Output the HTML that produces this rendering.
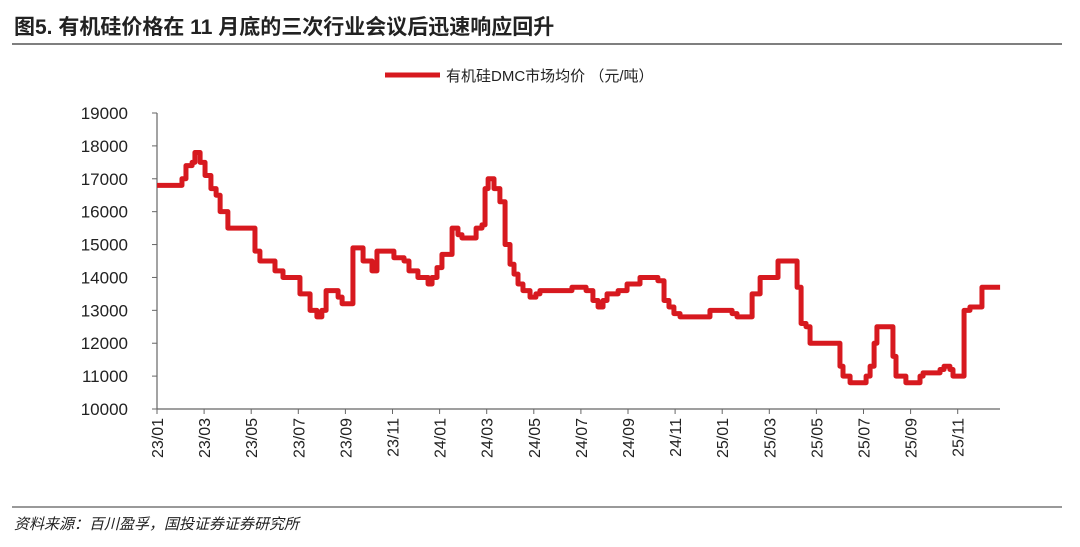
<!DOCTYPE html>
<html><head><meta charset="utf-8"><style>
body{margin:0;background:#fff;}
svg{display:block;font-family:"Liberation Sans","Noto Sans CJK SC",sans-serif;}
</style></head><body>
<svg width="1080" height="547" viewBox="0 0 1080 547">
<text x="14" y="34" font-size="21" font-weight="bold" fill="#222">图5. 有机硅价格在 11 月底的三次行业会议后迅速响应回升</text>
<line x1="12" y1="44" x2="1062" y2="44" stroke="#333" stroke-width="1.2"/>
<g>
<line x1="385" y1="75" x2="440" y2="75" stroke="#d7191f" stroke-width="5"/>
<text x="446" y="81" font-size="15" fill="#222">有机硅DMC市场均价 （元/吨）</text>
</g>
<g id="axes"></g>
<path id="line" fill="none" stroke="#d7191f" stroke-width="5" stroke-linejoin="round"/>
<line x1="12" y1="507" x2="1062" y2="507" stroke="#333" stroke-width="1"/>
<text x="14" y="529" font-size="15" font-style="italic" fill="#222">资料来源：百川盈孚，国投证券证券研究所</text>
</svg>
<script>
const months = [0,1.06,1.23,1.49,1.61,1.83,2.04,2.29,2.51,2.68,3.01,4.16,4.37,5.01,5.35,6.07,6.5,6.79,7.0,7.18,7.69,7.86,8.32,8.75,9.13,9.34,10.06,10.49,10.7,11.08,11.51,11.68,11.89,12.1,12.53,12.78,12.95,13.55,13.8,13.93,14.06,14.31,14.56,14.78,14.99,15.16,15.33,15.54,15.84,16.09,16.26,17.62,18.22,18.51,18.73,18.94,19.11,19.58,19.96,20.51,21.27,21.53,21.74,21.95,22.21,23.48,24.42,24.63,25.27,25.61,26.37,27.18,27.35,27.56,27.73,29.0,29.13,29.43,30.11,30.28,30.45,30.57,31.25,31.38,31.8,32.4,32.53,33.25,33.42,33.67,33.8,34.27,34.52,35.03,35.8];
const prices = [16800,17000,17400,17500,17800,17500,17100,16700,16500,16000,15500,14800,14500,14200,14000,13500,13000,12800,13000,13600,13400,13200,14900,14500,14200,14800,14600,14500,14200,14000,13800,14000,14300,14700,15500,15300,15200,15500,15600,16700,17000,16700,16300,15000,14400,14100,13800,13600,13400,13500,13600,13700,13600,13300,13100,13300,13500,13600,13800,14000,13900,13300,13100,12900,12800,13000,12900,12800,13500,14000,14500,13700,12600,12500,12000,11300,11000,10800,11000,11300,12000,12500,11600,11000,10800,11000,11100,11200,11300,11200,11000,13000,13100,13700,13700];
const yTicks = [10000,11000,12000,13000,14000,15000,16000,17000,18000,19000];
const xLabels = ["23/01","23/03","23/05","23/07","23/09","23/11","24/01","24/03","24/05","24/07","24/09","24/11","25/01","25/03","25/05","25/07","25/09","25/11"];
const X = t => 157 + t*23.55;
const Y = v => 409 - (v-10000)/9000*296;
const NS="http://www.w3.org/2000/svg";
const ax=document.getElementById('axes');
function mk(tag,attrs){const e=document.createElementNS(NS,tag);for(const k in attrs)e.setAttribute(k,attrs[k]);ax.appendChild(e);return e;}
let a=mk('line',{x1:157,y1:113,x2:157,y2:409,stroke:'#666','stroke-width':1.2});


a=mk('line',{x1:157,y1:409,x2:1000,y2:409,stroke:'#666','stroke-width':1.2});


yTicks.forEach(v=>{
 const t=mk('line',{x1:152,y1:Y(v),x2:157,y2:Y(v),stroke:'#666'});
 
 
 const l=mk('text',{x:128,y:Y(v)+6,'font-size':17,'text-anchor':'end',fill:'#222'});
 l.textContent=v;
 
 
});
xLabels.forEach((s,i)=>{
 const x=X(i*2);
 const t=mk('line',{x1:x,y1:409,x2:x,y2:414,stroke:'#666'});
 
 
 const l=mk('text',{x:0,y:0,'font-size':16,'text-anchor':'end',fill:'#222',transform:`translate(${x+6},418) rotate(-90)`});
 l.textContent=s;
 
 
});
let d='';
for(let i=0;i<months.length;i++){
 const x=X(months[i]),y=Y(prices[i]);
 if(i===0)d+=`M${x},${y}`;else d+=`L${x},${Y(prices[i-1])}L${x},${y}`;
}
document.getElementById('line').setAttribute('d',d);
</script>
</body></html>
